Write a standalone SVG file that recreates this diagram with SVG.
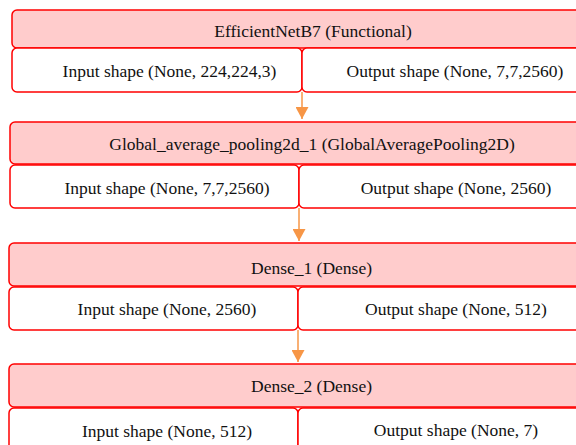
<svg xmlns="http://www.w3.org/2000/svg" width="576" height="445" viewBox="0 0 576 445">
  <style>
    .hdr { fill: #ffcccc; stroke: #ff0000; stroke-width: 1.5; }
    .cell { fill: #ffffff; stroke: #ff0000; stroke-width: 1.5; }
    .flow { stroke: #f79646; stroke-width: 1.5; fill: none; }
  </style>
  <defs>
    <marker id="head" markerWidth="13" markerHeight="13" refX="6.5" refY="12" orient="0" markerUnits="userSpaceOnUse">
      <path d="M0,0 L13,0 L6.5,12 Z" fill="#f79646"/>
    </marker>
  </defs>
  <rect width="576" height="445" fill="#ffffff"/>

  <g font-family="Liberation Serif, Times New Roman, serif" font-size="17.5" fill="#111" text-anchor="middle">
  <g id="efficientnet">
    <rect class="hdr" x="12" y="10" width="602" height="38" rx="5"/>
    <text x="313" y="37">EfficientNetB7 (Functional)</text>
    <rect class="cell" x="12" y="48" width="290" height="44" rx="5"/>
    <text x="169.5" y="77">Input shape (None, 224,224,3)</text>
    <rect class="cell" x="302" y="48" width="300" height="44" rx="5"/>
    <text x="455" y="77">Output shape (None, 7,7,2560)</text>
  </g>

  <g id="global-avg-pool">
    <rect class="hdr" x="10" y="122" width="604" height="42" rx="5"/>
    <text x="312" y="150">Global_average_pooling2d_1 (GlobalAveragePooling2D)</text>
    <rect class="cell" x="10" y="165" width="289" height="43" rx="5"/>
    <text x="167" y="194">Input shape (None, 7,7,2560)</text>
    <rect class="cell" x="299" y="165" width="300" height="43" rx="5"/>
    <text x="456" y="194">Output shape (None, 2560)</text>
  </g>

  <g id="dense-1">
    <rect class="hdr" x="9" y="243" width="605" height="43" rx="5"/>
    <text x="311.5" y="274">Dense_1 (Dense)</text>
    <rect class="cell" x="9" y="287" width="289" height="43" rx="5"/>
    <text x="167" y="315">Input shape (None, 2560)</text>
    <rect class="cell" x="298" y="287" width="300" height="43" rx="5"/>
    <text x="456" y="315">Output shape (None, 512)</text>
  </g>

  <g id="dense-2">
    <rect class="hdr" x="9" y="364" width="605" height="43" rx="5"/>
    <text x="311.5" y="392">Dense_2 (Dense)</text>
    <rect class="cell" x="9" y="408" width="289" height="44" rx="5"/>
    <text x="167" y="437">Input shape (None, 512)</text>
    <rect class="cell" x="298" y="408" width="300" height="44" rx="5"/>
    <text x="456" y="436">Output shape (None, 7)</text>
  </g>
  </g>

  <g id="connectors">
    <line class="flow" x1="302" y1="92" x2="302" y2="119" marker-end="url(#head)"/>
    <line class="flow" x1="299" y1="208" x2="299" y2="241" marker-end="url(#head)"/>
    <line class="flow" x1="298" y1="330" x2="298" y2="362" marker-end="url(#head)"/>
  </g>
</svg>
